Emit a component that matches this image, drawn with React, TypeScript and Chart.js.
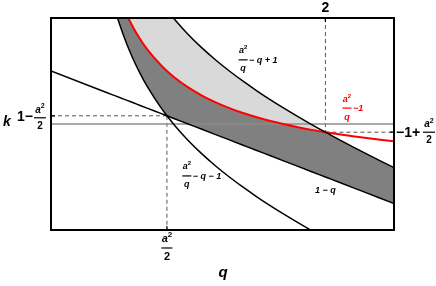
import React, { useEffect, useRef } from "react";
import { Chart, registerables } from "chart.js";
Chart.register(...registerables);

// sample points along q
const qValues = [0, 0.4, 0.45, 0.5, 0.55, 0.6, 0.65, 0.7, 0.8, 0.845, 0.9, 1.0, 1.1, 1.2, 1.3, 1.4, 1.5, 1.6, 1.7, 1.8, 1.9, 2.0, 2.1, 2.2, 2.3, 2.4, 2.5];
// a²/q − q + 1
const upperCurve = [null, 4.825, 4.306, 3.88, 3.523, 3.217, 2.95, 2.714, 2.313, 2.155, 1.978, 1.69, 1.436, 1.208, 1.0, 0.807, 0.627, 0.456, 0.294, 0.139, -0.011, -0.155, -0.295, -0.432, -0.565, -0.696, -0.824];
// a²/q − 1
const redCurve = [null, 3.225, 2.756, 2.38, 2.073, 1.817, 1.6, 1.414, 1.113, 1.0, 0.878, 0.69, 0.536, 0.408, 0.3, 0.207, 0.127, 0.056, -0.006, -0.061, -0.111, -0.155, -0.195, -0.232, -0.265, -0.296, -0.324];
// a²/q − q − 1
const lowerCurve = [null, 2.825, 2.306, 1.88, 1.523, 1.217, 0.95, 0.714, 0.313, 0.155, -0.022, -0.31, -0.564, -0.792, -1.0, -1.193, -1.373, -1.544, -1.706, -1.861, -2.011, -2.155, -2.295, -2.432, -2.565, -2.696, -2.824];
// 1 − q
const lineValues = [1, 0.6, 0.55, 0.5, 0.45, 0.4, 0.35, 0.3, 0.2, 0.155, 0.1, 0, -0.1, -0.2, -0.3, -0.4, -0.5, -0.6, -0.7, -0.8, -0.9, -1.0, -1.1, -1.2, -1.3, -1.4, -1.5];

const aSqHalf = 0.845; // a²/2
const cornerLow = 0.155; // 1 − a²/2
const cornerHigh = -0.155; // −1 + a²/2
const qTwo = 2;
const kLevel = 0;
const qRange = [0, 2.5];
const yRange = [-2, 2];

const FONT = '"Liberation Sans", Arial, sans-serif';

function pts(ys: (number | null)[]) {
  return qValues.map((q, i) => ({ x: q, y: ys[i] as any }));
}

const darkTop = upperCurve.map((u, i) => (u === null || redCurve[i] === null ? null : Math.min(u as number, redCurve[i] as number)));
const darkBottom = lowerCurve.map((l, i) => (l === null ? null : Math.max(l as number, lineValues[i])));

function drawA2(ctx: CanvasRenderingContext2D, cx: number, cy: number, size: number) {
  ctx.font = `italic bold ${size}px ${FONT}`;
  const wa = ctx.measureText("a").width;
  ctx.font = `bold ${Math.round(size * 0.7)}px ${FONT}`;
  const w2 = ctx.measureText("2").width;
  const x0 = cx - (wa + w2) / 2;
  ctx.textAlign = "left";
  ctx.textBaseline = "middle";
  ctx.font = `italic bold ${size}px ${FONT}`;
  ctx.fillText("a", x0, cy);
  ctx.font = `bold ${Math.round(size * 0.7)}px ${FONT}`;
  ctx.fillText("2", x0 + wa, cy - size * 0.35);
}

function drawFrac(ctx: CanvasRenderingContext2D, cx: number, barY: number, den: string, size: number, color: string, barW: number, gap: number, denItalic: boolean) {
  ctx.fillStyle = color;
  ctx.strokeStyle = color;
  drawA2(ctx, cx, barY - gap, size);
  ctx.lineWidth = 1.2;
  ctx.setLineDash([]);
  ctx.beginPath();
  ctx.moveTo(cx - barW / 2, barY);
  ctx.lineTo(cx + barW / 2, barY);
  ctx.stroke();
  ctx.font = `${denItalic ? "italic " : ""}bold ${size}px ${FONT}`;
  ctx.textAlign = "center";
  ctx.textBaseline = "middle";
  ctx.fillText(den, cx, barY + gap);
}

const labelPlugin = {
  id: "labels",
  afterDatasetsDraw(chart: any) {
    const ctx: CanvasRenderingContext2D = chart.ctx;
    const { left, top, right, bottom } = chart.chartArea;
    const xs = chart.scales.x;
    const ys = chart.scales.y;
    ctx.save();
    // frame
    ctx.setLineDash([]);
    ctx.strokeStyle = "#000";
    ctx.lineWidth = 2;
    ctx.strokeRect(left, top, right - left, bottom - top);

    // small ticks
    ctx.lineWidth = 1.2;
    const xA = xs.getPixelForValue(aSqHalf);
    const x2 = xs.getPixelForValue(qTwo);
    const yLow = ys.getPixelForValue(cornerLow);
    const yHigh = ys.getPixelForValue(cornerHigh);
    ctx.beginPath();
    ctx.moveTo(xA, bottom); ctx.lineTo(xA, bottom - 4);
    ctx.moveTo(x2, top); ctx.lineTo(x2, top + 4);
    ctx.moveTo(left, yLow); ctx.lineTo(left + 4, yLow);
    ctx.moveTo(right, yHigh); ctx.lineTo(right - 4, yHigh);
    ctx.stroke();

    ctx.fillStyle = "#000";
    ctx.textBaseline = "middle";
    // top "2"
    ctx.font = `bold 14px ${FONT}`;
    ctx.textAlign = "center";
    ctx.fillText("2", x2, top - 10);
    // k
    ctx.font = `italic bold 14px ${FONT}`;
    ctx.textAlign = "left";
    ctx.fillText("k", 3, ys.getPixelForValue(kLevel) - 2);
    // 1 − a²/2
    ctx.font = `bold 14px ${FONT}`;
    ctx.textAlign = "right";
    ctx.fillText("1\u2212", left - 18, yLow + 1);
    drawFrac(ctx, left - 11, yLow + 2, "2", 10, "#000", 12, 8, false);
    // −1 + a²/2
    ctx.fillStyle = "#000";
    ctx.font = `bold 14px ${FONT}`;
    ctx.textAlign = "left";
    ctx.fillText("\u22121+", right + 2, yHigh + 1);
    drawFrac(ctx, right + 35, yHigh, "2", 10, "#000", 12, 8, false);
    // bottom a²/2
    drawFrac(ctx, xA, bottom + 18, "2", 11, "#000", 11, 9, false);
    // axis title q
    ctx.fillStyle = "#000";
    ctx.font = `italic bold 15px ${FONT}`;
    ctx.textAlign = "center";
    ctx.fillText("q", 223, bottom + 43);

    // curve labels
    const lab = (qx: number, yv: number, rest: string, color: string) => {
      const cx = xs.getPixelForValue(qx);
      const cy = ys.getPixelForValue(yv);
      drawFrac(ctx, cx, cy, "q", 9, color, 9, 9, true);
      ctx.fillStyle = color;
      ctx.font = `italic bold 9px ${FONT}`;
      ctx.textAlign = "left";
      ctx.textBaseline = "middle";
      ctx.fillText(rest, cx + 6, cy + 0.5);
    };
    lab(1.40, 1.21, "\u2212 q + 1", "#000");
    lab(2.157, 0.30, "\u22121", "#f00");
    lab(0.99, -0.98, "\u2212 q \u2212 1", "#000");
    ctx.fillStyle = "#000";
    ctx.font = `italic bold 9px ${FONT}`;
    ctx.textAlign = "center";
    ctx.fillText("1 \u2212 q", xs.getPixelForValue(2.0), ys.getPixelForValue(-1.26));
    ctx.restore();
  },
};

export default function App() {
  const ref = useRef<HTMLCanvasElement | null>(null);
  useEffect(() => {
    if (!ref.current) return;
    const black = "#000";
    const base = { pointRadius: 0, cubicInterpolationMode: "monotone" as const };
    const seg = (a: [number, number], b: [number, number]) => [{ x: a[0], y: a[1] }, { x: b[0], y: b[1] }];
    const dashed = { borderColor: "#555", borderWidth: 1, borderDash: [4, 3], pointRadius: 0, fill: false };
    const chart = new Chart(ref.current, {
      type: "line",
      data: {
        datasets: [
          { ...base, data: pts(upperCurve), borderColor: black, borderWidth: 1.5, fill: { target: 1, above: "#d9d9d9", below: "rgba(0,0,0,0)" } },
          { ...base, data: pts(redCurve), borderColor: "#ff0000", borderWidth: 2, fill: false },
          { ...base, data: pts(lowerCurve), borderColor: black, borderWidth: 1.5, fill: false },
          { ...base, data: pts(lineValues), borderColor: black, borderWidth: 1.5, fill: false },
          { ...base, data: pts(darkTop), borderColor: "rgba(0,0,0,0)", borderWidth: 0, fill: { target: 5, above: "#808080", below: "#808080" } },
          { ...base, data: pts(darkBottom), borderColor: "rgba(0,0,0,0)", borderWidth: 0, fill: false },
          { data: seg([qRange[0], kLevel], [qRange[1], kLevel]), borderColor: "#8c8c8c", borderWidth: 1.5, pointRadius: 0, fill: false },
          { ...dashed, data: seg([aSqHalf, cornerLow], [aSqHalf, yRange[0]]) },
          { ...dashed, data: seg([qRange[0], cornerLow], [aSqHalf, cornerLow]) },
          { ...dashed, data: seg([qTwo, yRange[1]], [qTwo, cornerHigh]) },
          { ...dashed, data: seg([qTwo, cornerHigh], [qRange[1], cornerHigh]) },
        ] as any,
      },
      options: {
        responsive: false,
        animation: false,
        layout: { padding: { left: 51, top: 18, right: 42, bottom: 56 } },
        scales: {
          x: { type: "linear", min: qRange[0], max: qRange[1], display: false },
          y: { type: "linear", min: yRange[0], max: yRange[1], display: false },
        },
        plugins: {
          legend: { display: false },
          tooltip: { enabled: false },
          filler: { drawTime: "beforeDatasetsDraw" } as any,
        },
      },
      plugins: [labelPlugin],
    });
    return () => chart.destroy();
  }, []);
  return (
    <div style={{ position: "fixed", left: 0, top: 0, width: 436, height: 286, background: "#fff" }}>
      <canvas ref={ref} width={436} height={286} />
    </div>
  );
}
